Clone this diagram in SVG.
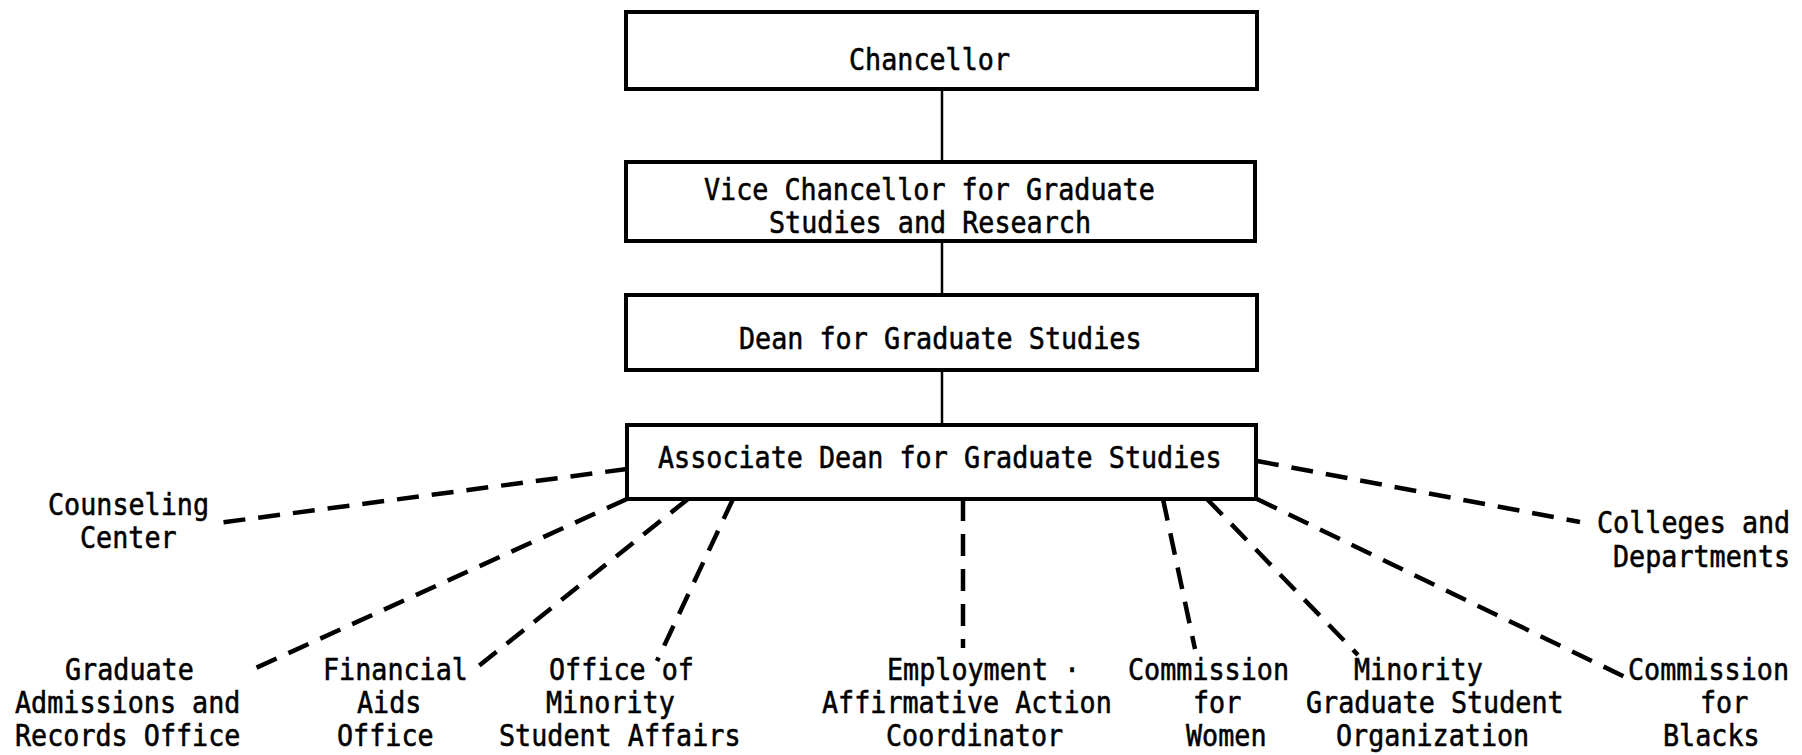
<svg xmlns="http://www.w3.org/2000/svg" width="1802" height="755" viewBox="0 0 1802 755">
  <style>
    .box { fill: #ffffff; stroke: #000000; stroke-width: 4; }
    .solid { stroke: #000000; stroke-width: 2.5; fill: none; }
    .dash { stroke: #000000; stroke-width: 4.5; fill: none; stroke-dasharray: 22 13; stroke-linecap: butt; }
    text { font-family: "DejaVu Sans Mono", "Liberation Mono", monospace; font-size: 26.75px; fill: #000000; stroke: #000000; stroke-width: 0.5; }
  </style>
  <rect x="0" y="0" width="1802" height="755" fill="#ffffff"/>

  <!-- connectors -->
  <g id="connectors">
    <line class="solid" x1="942" y1="89" x2="942" y2="162"/>
    <line class="solid" x1="942" y1="241" x2="942" y2="295"/>
    <line class="solid" x1="942" y1="370" x2="942" y2="425"/>
    <line class="dash" x1="627" y1="469" x2="218" y2="523"/>
    <line class="dash" x1="627" y1="499" x2="247" y2="672"/>
    <line class="dash" x1="688" y1="499" x2="475" y2="669"/>
    <line class="dash" x1="733" y1="499" x2="657" y2="661"/>
    <line class="dash" x1="963" y1="499" x2="963" y2="648"/>
    <line class="dash" x1="1163" y1="499" x2="1195" y2="649"/>
    <line class="dash" x1="1207" y1="499" x2="1358" y2="655"/>
    <line class="dash" x1="1257" y1="499" x2="1625" y2="677"/>
    <line class="dash" x1="1257" y1="461" x2="1580" y2="522"/>
  </g>

  <!-- hierarchy boxes -->
  <g id="chancellor">
    <rect class="box" x="626" y="12" width="631" height="77"/>
    <text transform="translate(849 70) scale(1 1.12)">Chancellor</text>
  </g>
  <g id="vice-chancellor">
    <rect class="box" x="626" y="162" width="629" height="79"/>
    <text transform="translate(704 200) scale(1 1.12)">Vice Chancellor for Graduate</text>
    <text transform="translate(769 233) scale(1 1.12)">Studies and Research</text>
  </g>
  <g id="dean">
    <rect class="box" x="626" y="295" width="631" height="75"/>
    <text transform="translate(739 349) scale(1 1.12)">Dean for Graduate Studies</text>
  </g>
  <g id="associate-dean">
    <rect class="box" x="627" y="425" width="629" height="74"/>
    <text transform="translate(658 468) scale(1 1.12)">Associate Dean for Graduate Studies</text>
  </g>

  <!-- related offices -->
  <g id="counseling-center">
    <text transform="translate(48 515) scale(1 1.12)">Counseling</text>
    <text transform="translate(80 548) scale(1 1.12)">Center</text>
  </g>
  <g id="colleges-departments">
    <text transform="translate(1597 533) scale(1 1.12)">Colleges and</text>
    <text transform="translate(1613 567) scale(1 1.12)">Departments</text>
  </g>
  <g id="admissions-records">
    <text transform="translate(65 680) scale(1 1.12)">Graduate</text>
    <text transform="translate(15 713) scale(1 1.12)">Admissions and</text>
    <text transform="translate(15 746) scale(1 1.12)">Records Office</text>
  </g>
  <g id="financial-aids">
    <text transform="translate(323 680) scale(1 1.12)">Financial</text>
    <text transform="translate(357 713) scale(1 1.12)">Aids</text>
    <text transform="translate(337 746) scale(1 1.12)">Office</text>
  </g>
  <g id="minority-student-affairs">
    <text transform="translate(549 680) scale(1 1.12)">Office of</text>
    <text transform="translate(546 713) scale(1 1.12)">Minority</text>
    <text transform="translate(499 746) scale(1 1.12)">Student Affairs</text>
  </g>
  <g id="affirmative-action">
    <text transform="translate(887 680) scale(1 1.12)">Employment ·</text>
    <text transform="translate(822 713) scale(1 1.12)">Affirmative Action</text>
    <text transform="translate(886 746) scale(1 1.12)">Coordinator</text>
  </g>
  <g id="commission-women">
    <text transform="translate(1128 680) scale(1 1.12)">Commission</text>
    <text transform="translate(1193 713) scale(1 1.12)">for</text>
    <text transform="translate(1186 746) scale(1 1.12)">Women</text>
  </g>
  <g id="minority-student-org">
    <text transform="translate(1354 680) scale(1 1.12)">Minority</text>
    <text transform="translate(1306 713) scale(1 1.12)">Graduate Student</text>
    <text transform="translate(1336 746) scale(1 1.12)">Organization</text>
  </g>
  <g id="commission-blacks">
    <text transform="translate(1628 680) scale(1 1.12)">Commission</text>
    <text transform="translate(1700 713) scale(1 1.12)">for</text>
    <text transform="translate(1663 746) scale(1 1.12)">Blacks</text>
  </g>
</svg>
